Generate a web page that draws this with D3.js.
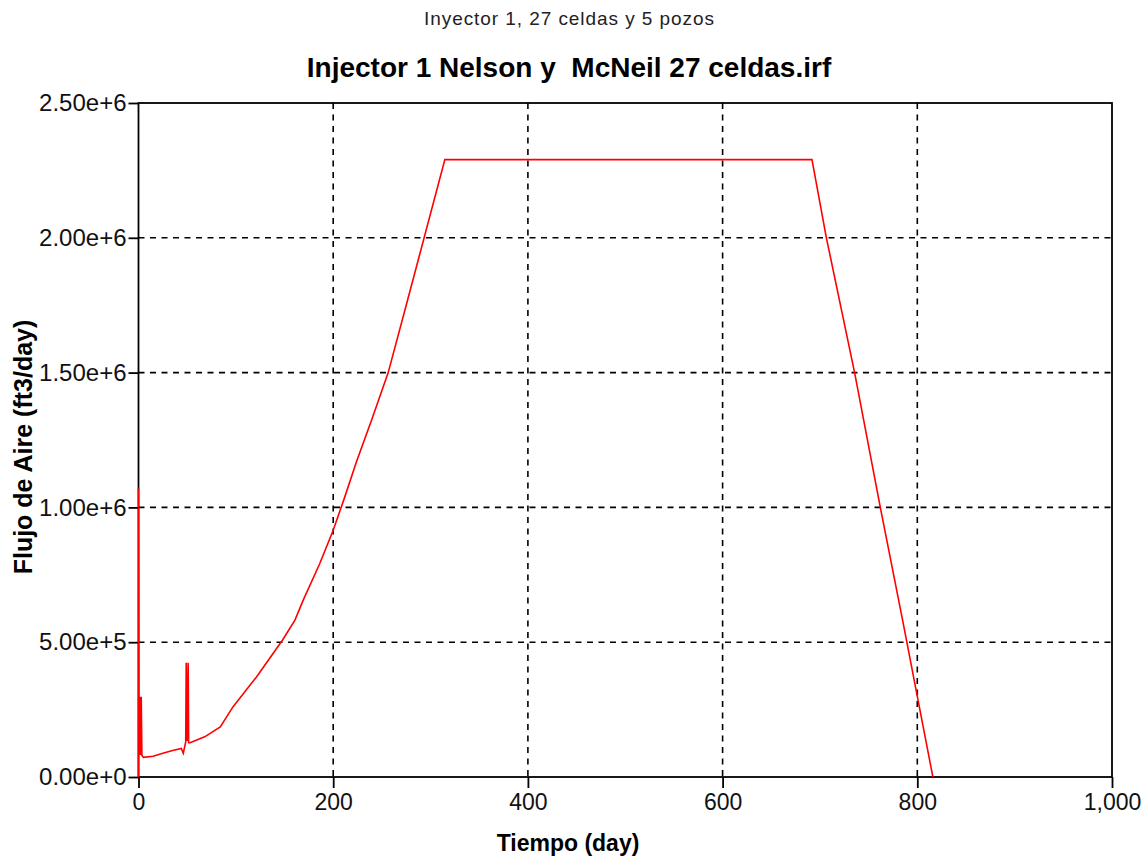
<!DOCTYPE html>
<html>
<head>
<meta charset="utf-8">
<script src="https://cdn.jsdelivr.net/npm/d3@7"></script>
<style>
  html, body { margin: 0; padding: 0; background: #fff; }
  svg { display: block; font-family: "Liberation Sans", Arial, sans-serif; }
  text { white-space: pre; }
</style>
</head>
<body>
<svg id="chart" width="1146" height="861"></svg>
<script>
// ---- data ----
const subtitle = "Inyector 1, 27 celdas y 5 pozos";
const title = "Injector 1 Nelson y  McNeil 27 celdas.irf";
const xLabel = "Tiempo (day)";
const yLabel = "Flujo de Aire (ft3/day)";

const xTicks = [0, 200, 400, 600, 800, 1000];
const yTicks = [0, 500000, 1000000, 1500000, 2000000, 2500000];
const xTickLabels = ["0", "200", "400", "600", "800", "1,000"];
const yTickLabels = ["0.00e+0", "5.00e+5", "1.00e+6", "1.50e+6", "2.00e+6", "2.50e+6"];

const days = [0, 0, 0.5, 1.2, 2.0, 2.8, 3.5, 5, 15, 25, 35, 44, 46, 48.5, 49, 50, 51, 51.5, 53, 68, 84, 97,
  121.4, 148, 160.7, 169.2, 186, 200, 212, 224, 240, 256.5, 275, 293.4, 314.7, 691.8, 706.6, 735.6, 762, 785, 816];
const flow = [0, 1070000, 82000, 298000, 82000, 298000, 80000, 73000, 77000, 88000, 98000, 106000, 88000, 130000, 424000, 134000, 424000, 127000, 127000, 149000, 186000, 260000,
  372000, 508000, 582000, 656000, 790000, 915000, 1040000, 1170000, 1330000, 1500000, 1750000, 2000000, 2290000, 2290000, 2000000, 1500000, 1000000, 580000, 0];

// ---- layout ----
const svg = d3.select("#chart");
const pLeft = 138.5, pRight = 1112, pTop = 103, pBottom = 777;

const x = d3.scaleLinear().domain([0, 1000]).range([pLeft, pRight]);
const y = d3.scaleLinear().domain([0, 2500000]).range([pBottom, pTop]);

// grid
const grid = svg.append("g").attr("stroke", "#000").attr("stroke-width", 1.6).attr("stroke-dasharray", "6,5.5");
grid.selectAll("line.vg").data(xTicks.filter(d => d > 0 && d < 1000)).join("line")
  .attr("x1", d => x(d)).attr("x2", d => x(d)).attr("y1", pTop).attr("y2", pBottom);
grid.selectAll("line.hg").data(yTicks.filter(d => d > 0 && d < 2500000)).join("line")
  .attr("x1", pLeft).attr("x2", pRight).attr("y1", d => y(d)).attr("y2", d => y(d));

// frame
svg.append("rect").attr("x", pLeft).attr("y", pTop).attr("width", pRight - pLeft).attr("height", pBottom - pTop)
  .attr("fill", "none").attr("stroke", "#000").attr("stroke-width", 1.8);

// axes
const xAxis = d3.axisBottom(x).tickValues(xTicks).tickFormat((d, i) => xTickLabels[i]).tickSize(11).tickPadding(6);
const yAxis = d3.axisLeft(y).tickValues(yTicks).tickFormat((d, i) => yTickLabels[i]).tickSize(10).tickPadding(2);

const gx = svg.append("g").attr("transform", `translate(0,${pBottom})`).call(xAxis);
const gy = svg.append("g").attr("transform", `translate(${pLeft},0)`).call(yAxis);
[gx, gy].forEach(g => {
  g.select(".domain").remove();
  g.selectAll(".tick line").attr("stroke", "#000").attr("stroke-width", 1.8);
  g.selectAll(".tick text").attr("fill", "#111").attr("font-family", "Liberation Sans, Arial, sans-serif");
});
gx.selectAll(".tick text").attr("font-size", 23);
gy.selectAll(".tick text").attr("font-size", 24);

// data line
const line = d3.line().x(d => x(d[0])).y(d => y(d[1]));
svg.append("path").datum(days.map((d, i) => [d, flow[i]]))
  .attr("d", line).attr("fill", "none").attr("stroke", "#ff0000").attr("stroke-width", 1.6)
  .attr("stroke-linejoin", "miter");

// texts
svg.append("text").attr("x", 569).attr("y", 25).attr("text-anchor", "middle")
  .attr("font-size", 19).attr("fill", "#222").attr("textLength", 290).attr("lengthAdjust", "spacing")
  .text(subtitle);
svg.append("text").attr("x", 569).attr("y", 77).attr("text-anchor", "middle")
  .attr("font-size", 28).attr("font-weight", "bold").attr("fill", "#000")
  .text(title);
svg.append("text").attr("x", 568).attr("y", 851).attr("text-anchor", "middle")
  .attr("font-size", 23).attr("font-weight", "bold").attr("fill", "#000")
  .text(xLabel);
svg.append("text").attr("transform", "translate(32,447) rotate(-90)").attr("text-anchor", "middle")
  .attr("font-size", 25).attr("font-weight", "bold").attr("fill", "#000")
  .text(yLabel);
</script>
</body>
</html>
